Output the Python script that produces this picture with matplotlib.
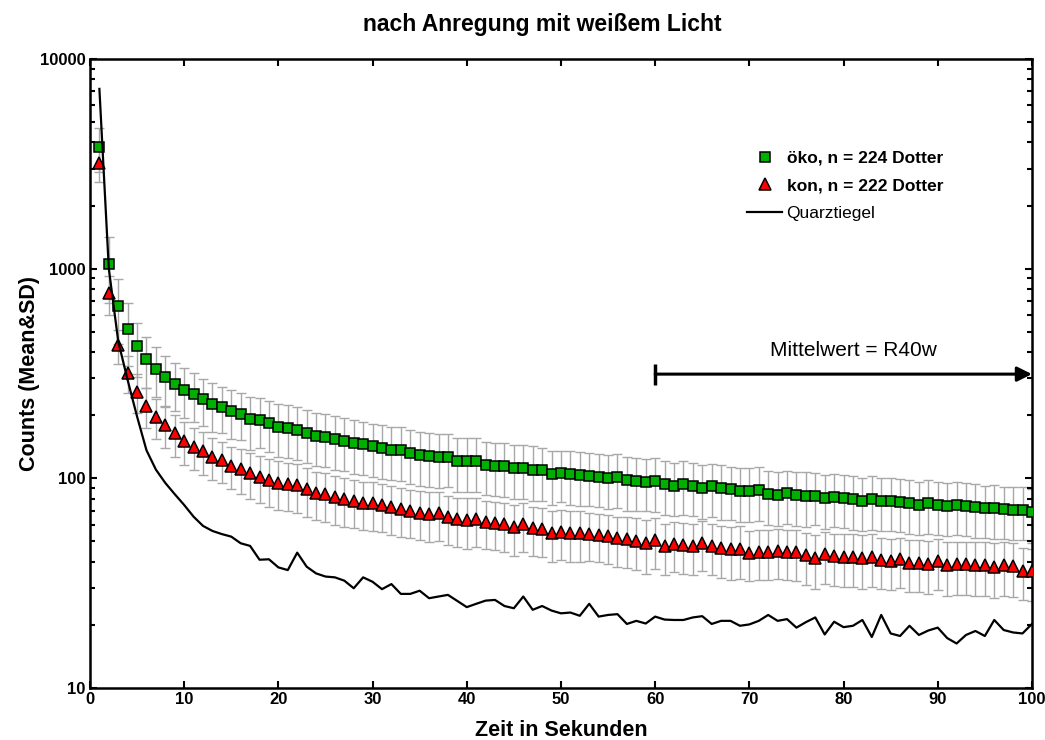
import matplotlib
matplotlib.use("agg")
import matplotlib.pyplot as plt
from matplotlib.ticker import FixedLocator, FixedFormatter, LogLocator, NullFormatter

plt.rcParams['font.family'] = ['Liberation Sans', 'DejaVu Sans']

# Zeit in Sekunden (1..100)
t = list(range(1, 101))

oeko_mean = [3800, 1050, 664, 514, 428, 372, 333, 303, 282, 264,
             252, 238, 226, 219, 209, 203, 191, 190, 184, 176,
             174, 170, 165, 159, 158, 154, 151, 147, 145, 142,
             139, 137, 136, 132, 129, 128, 126, 127, 121, 121,
             121, 116, 115, 114, 112, 112, 110, 109, 105, 106,
             105, 104, 103, 102, 100, 101, 98, 97.5, 96.5, 96.8,
             93.6, 91.9, 93.6, 91.9, 90.2, 91.6, 89.6, 88.6, 87, 87,
             87.7, 84.2, 83.2, 84.8, 83.2, 82.6, 82.6, 80.3, 81.7, 80.8,
             79.6, 78, 79.4, 78, 78, 77.3, 76, 74.6, 76, 74.6,
             73.8, 74.6, 73.8, 73, 71.9, 72.4, 71.1, 70.6, 70.6, 69.3]
oeko_sd = [900, 365, 227, 172, 124, 101, 89, 82, 73, 70,
           67, 61, 60, 54, 55, 51, 54, 51, 50, 50,
           49, 48, 47, 45, 45, 44, 43, 42, 41, 40,
           40, 39, 39, 38, 37, 37, 36, 36, 35, 35,
           35, 33, 33, 33, 32, 32, 32, 31, 30, 29,
           30, 30, 29, 29, 29, 29, 28, 28, 27, 28,
           27, 26, 27, 26, 26, 26, 26, 25, 25, 25,
           25, 24, 24, 24, 24, 24, 23, 23, 23, 23,
           23, 22, 23, 22, 22, 22, 22, 21, 22, 21,
           21, 21, 21, 21, 20, 21, 20, 20, 20, 20]

kon_mean = [3200, 763, 432, 319, 259, 221, 197, 179, 164, 151,
            141, 135, 127, 122, 115, 111, 106, 102, 98, 95.3,
            94, 92.6, 88.6, 85.4, 84.2, 81.1, 79.4, 78.2, 76.5, 76,
            74.6, 72.8, 71.4, 70.1, 68.6, 67.6, 68.1, 65.2, 63.8, 63.2,
            63.8, 62.1, 61.4, 60.3, 58.8, 60.3, 57.8, 57.1, 55.1, 55.6,
            55.1, 54.7, 54.2, 53.7, 53.2, 51.7, 51.4, 50.4, 49, 50.8,
            47.5, 48.6, 48.1, 47.7, 49.3, 47.5, 46.4, 45.9, 46, 44.2,
            44.7, 44.7, 45.2, 44.7, 44.4, 43.1, 41.8, 43.4, 42.5, 42.3,
            42.3, 41.5, 42.3, 40.7, 40.4, 41.1, 39.6, 39.6, 39, 40.4,
            38.6, 38.9, 38.9, 38.6, 38.6, 37.9, 38.6, 38.2, 36.3, 36.1]
kon_sd = [600, 160, 80, 63, 55, 48, 43, 40, 37, 35,
          32, 31, 29, 27, 26, 27, 26, 26, 25, 25,
          24, 24, 23, 22, 22, 21, 21, 20, 20, 20,
          19, 19, 19, 18, 18, 18, 18, 17, 17, 17,
          17, 16, 16, 16, 16, 16, 15, 15, 15, 15,
          15, 15, 14, 14, 14, 14, 14, 14, 14, 14,
          13, 13, 13, 13, 13, 13, 13, 13, 13, 12,
          12, 12, 12, 12, 12, 12, 12, 12, 12, 12,
          12, 12, 12, 11, 11, 11, 11, 11, 11, 11,
          11, 11, 11, 11, 11, 11, 11, 11, 10, 10]

quarz = [7200, 1000, 450, 294, 197, 136, 110, 95, 84, 74.6,
         65.6, 59.3, 56.1, 54.2, 52.7, 49, 47.6, 40.9, 41.1, 37.6,
         36.5, 44.2, 37.9, 35.2, 34, 33.7, 32.5, 29.9, 33.7, 32.1,
         29.6, 31.3, 28.1, 28.1, 29.1, 26.8, 27.3, 27.8, 26, 24.3,
         25.2, 26.1, 26.3, 24.6, 24, 27.3, 23.6, 24.6, 23.4, 22.7,
         22.9, 22.1, 25.2, 21.9, 22.3, 22.5, 20.2, 20.9, 20.3, 21.9,
         21.2, 21.1, 21.1, 21.7, 22, 20.2, 20.9, 20.9, 19.8, 20.1,
         20.9, 22.3, 20.9, 21.3, 19.4, 20.6, 21.7, 18, 20.7, 19.5,
         19.8, 21.1, 17.5, 22.3, 18.2, 17.7, 19.8, 17.9, 18.8, 19.4,
         17.3, 16.3, 17.9, 18.7, 17.7, 21.1, 18.9, 18.4, 18.2, 20.2]

fig = plt.figure(figsize=(10.45, 7.4), dpi=100)
ax = fig.add_axes([0.0861, 0.0703, 0.9014, 0.85])

ax.errorbar(t, oeko_mean, yerr=oeko_sd, fmt='none', ecolor='#a8a8a8',
            elinewidth=1, capsize=3.6, capthick=1, zorder=1)
ax.errorbar(t, kon_mean, yerr=kon_sd, fmt='none', ecolor='#a8a8a8',
            elinewidth=1, capsize=3.6, capthick=1, zorder=1)

ax.plot(t, oeko_mean, linestyle='none', marker='s', markersize=6.5,
        markerfacecolor='#00b000', markeredgecolor='black', markeredgewidth=1.1,
        label='öko, n = 224 Dotter', zorder=3)
ax.plot(t, kon_mean, linestyle='none', marker='^', markersize=8,
        markerfacecolor='#ff0000', markeredgecolor='black', markeredgewidth=1.1,
        label='kon, n = 222 Dotter', zorder=3)
ax.plot(t, quarz, color='black', linewidth=1.6, label='Quarztiegel', zorder=4)

# Mittelwert-Pfeil
ax.annotate('', xy=(100, 314), xytext=(60, 314),
            arrowprops=dict(arrowstyle='-|>', lw=2.2, color='black',
                            mutation_scale=22, shrinkA=0, shrinkB=0))
ax.vlines(60, 279, 351, color='black', lw=2.5)
ax.text(81, 405, 'Mittelwert = R40w', ha='center', va='center', fontsize=15)

ax.set_yscale('log')
ax.set_xlim(0, 100)
ax.set_ylim(10, 10000)
ax.set_xticks(range(0, 101, 10))
ax.yaxis.set_major_locator(FixedLocator([10, 100, 1000, 10000]))
ax.yaxis.set_major_formatter(FixedFormatter(['10', '100', '1000', '10000']))
ax.yaxis.set_minor_locator(LogLocator(base=10, subs=range(2, 10)))
ax.yaxis.set_minor_formatter(NullFormatter())

for s in ax.spines.values():
    s.set_linewidth(1.8)
ax.tick_params(which='both', direction='in', top=True, right=True, width=1.5)
ax.tick_params(which='major', length=5, labelsize=12, pad=3)
ax.tick_params(which='minor', length=3.5)
for lab in ax.get_xticklabels() + ax.get_yticklabels():
    lab.set_fontweight('bold')

ax.set_xlabel('Zeit in Sekunden', fontsize=15.5, fontweight='bold', labelpad=9)
ax.set_ylabel('Counts (Mean&SD)', fontsize=15.5, fontweight='bold', labelpad=0)
ax.set_title('nach Anregung mit weißem Licht', fontsize=16.5, fontweight='bold',
             x=0.48, pad=20)

leg = ax.legend(loc='upper right', bbox_to_anchor=(0.913, 0.865), frameon=False,
                fontsize=12.5, handlelength=2.0, handletextpad=0.25,
                labelspacing=0.7, borderaxespad=0)
for i, txt in enumerate(leg.get_texts()):
    if i < 2:
        txt.set_fontweight('bold')

plt.savefig('out.png', dpi=100)
plt.close()
